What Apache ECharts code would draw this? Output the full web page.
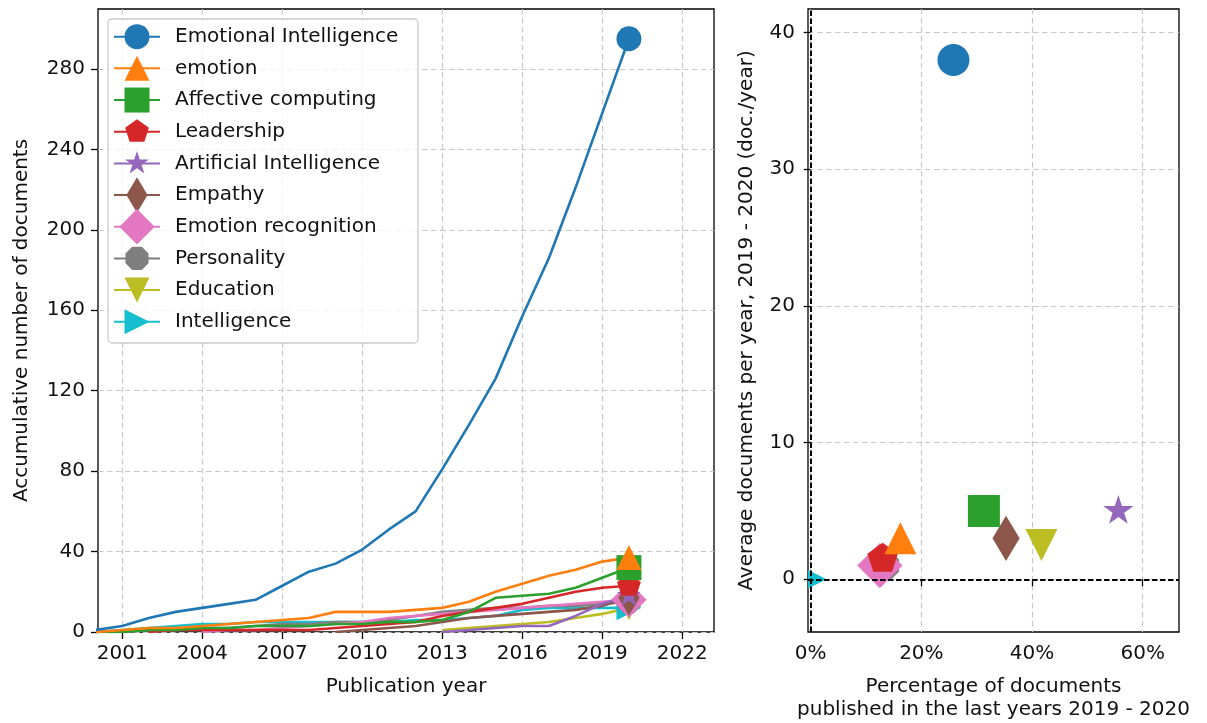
<!DOCTYPE html>
<html>
<head>
<meta charset="utf-8">
<script src="https://cdn.jsdelivr.net/npm/echarts@6/dist/echarts.min.js"></script>
<style>
  html, body { margin: 0; padding: 0; background: #ffffff; }
  #chart { width: 1207px; height: 723px; }
</style>
</head>
<body>
<div id="chart"></div>
<script>
// ---- data ----------------------------------------------------------------
const years = [2000, 2001, 2002, 2003, 2004, 2005, 2006, 2007, 2008, 2009, 2010,
               2011, 2012, 2013, 2014, 2015, 2016, 2017, 2018, 2019, 2020];

const keywords = ['Emotional Intelligence', 'emotion', 'Affective computing', 'Leadership',
                  'Artificial Intelligence', 'Empathy', 'Emotion recognition', 'Personality',
                  'Education', 'Intelligence'];

// cumulative number of documents per year (null = no documents yet)
const emotionalIntelligence = [1, 3, 7, 10, 12, 14, 16, 23, 30, 34, 41, 51, 60, 81, 103, 126, 157, 186, 221, 258, 295];
const emotion = [0, 1, 2, 2, 3, 4, 5, 6, 7, 10, 10, 10, 11, 12, 15, 20, 24, 28, 31, 35, 37];
const affectiveComputing = [0, 0, 1, 1, 2, 2, 3, 3, 3, 4, 4, 5, 5, 6, 10, 17, 18, 19, 22, 27, 32];
const leadership = [null, null, 0, 1, 1, 1, 1, 1, 1, 2, 3, 4, 5, 8, 10, 12, 14, 17, 20, 22, 23];
const artificialIntelligence = [null, null, null, null, null, null, null, null, null, null, null, null, null,
                                0, 1, 2, 3, 3, 8, 14, 18];
const empathy = [null, null, null, null, null, null, null, null, null,
                 0, 1, 2, 3, 5, 7, 8, 9, 10, 11, 13, 17];
const emotionRecognition = [null, null, null, null, 0, 1, 1, 2, 3, 4, 5, 7, 8, 9, 10, 11, 12, 13, 14, 15, 16];
const personality = [0, 0, 1, 1, 2, 2, 3, 4, 4, 5, 5, 6, 8, 10, 11, 12, 12, 13, 13, 14, 15];
const education = [null, null, null, null, null, null, null, null, null, null, null, null, null,
                   1, 2, 3, 4, 5, 7, 9, 12];
const intelligence = [0, 1, 2, 3, 4, 4, 5, 5, 5, 5, 5, 5, 6, 6, 7, 8, 11, 12, 12, 12, 12];

const cumulative = [emotionalIntelligence, emotion, affectiveComputing, leadership, artificialIntelligence,
                    empathy, emotionRecognition, personality, education, intelligence];

// share of documents published in 2019-2020 (%) and average documents per year in 2019-2020
const recentShare = [25.8, 16.2, 31.3, 13.0, 55.6, 35.3, 12.5, 13.3, 41.7, 0.0];
const recentAverage = [38, 3, 5, 1.5, 5, 3, 1, 1, 2.5, 0];

// tick labels
const yearTicks = [2001, 2004, 2007, 2010, 2013, 2016, 2019, 2022];
const countTicks = [0, 40, 80, 120, 160, 200, 240, 280];
const shareTicks = [0, 20, 40, 60];
const averageTicks = [0, 10, 20, 30, 40];

// ---- styling -------------------------------------------------------------
const colors = ['#1f77b4', '#ff7f0e', '#2ca02c', '#d62728', '#9467bd',
                '#8c564b', '#e377c2', '#7f7f7f', '#bcbd22', '#17becf'];
const markerKinds = ['o', '^', 's', 'p', '*', 'd', 'D', '8', 'v', '>'];
const FONT = 'DejaVu Sans';
const TEXT = '#111111';
const GRID_LINE = { show: true, lineStyle: { color: '#c8c8c8', width: 1.2, type: [5.5, 3.5] } };

// marker outlines in units of the marker radius (screen y pointing down)
function markerPoints(kind) {
  const poly = (n, start, radius) => Array.from({ length: n }, (_, k) => {
    const a = (start + 360 * k / n) * Math.PI / 180;
    return [radius * Math.cos(a), radius * Math.sin(a)];
  });
  const s2 = Math.SQRT2;
  switch (kind) {
    case '^': return [[0, -1], [-1, 1], [1, 1]];
    case 'v': return [[0, 1], [-1, -1], [1, -1]];
    case '>': return [[1, 0], [-1, -1], [-1, 1]];
    case 's': return [[-1, -1], [1, -1], [1, 1], [-1, 1]];
    case 'p': return poly(5, -90, 1);
    case '8': return poly(8, -112.5, 1);
    case 'D': return [[0, -s2], [s2, 0], [0, s2], [-s2, 0]];
    case 'd': return [[0, -s2], [0.6 * s2, 0], [0, s2], [-0.6 * s2, 0]];
    case '*': {
      const outer = poly(5, -90, 1), inner = poly(5, -54, 0.381966), pts = [];
      for (let k = 0; k < 5; k++) { pts.push(outer[k], inner[k]); }
      return pts;
    }
  }
  return null;
}

// symbol paths share one square frame so every marker keeps its proportions
const FRAME = 1.42;
function markerPath(kind) {
  const f = FRAME;
  let body;
  if (kind === 'o') {
    body = 'M-1 0A1 1 0 1 1 1 0A1 1 0 1 1 -1 0Z';
  } else {
    body = 'M' + markerPoints(kind).map(p => p[0].toFixed(4) + ' ' + p[1].toFixed(4)).join('L') + 'Z';
  }
  return 'path://M' + (-f) + ' ' + (-f) + 'M' + f + ' ' + f + body;
}

const LINE_MARKER = 25;    // marker diameter on the cumulative chart / legend
const SCATTER_MARKER = 32; // marker diameter on the recent-activity chart
const LEGEND_SYMBOL = LINE_MARKER * FRAME;  // legend icon box (80% of item height)
const LEGEND_ROW = 31.67;                   // distance between legend rows

// ---- series --------------------------------------------------------------
const series = [];
// drawn last-to-first so that the first keyword ends up on top
for (let i = keywords.length - 1; i >= 0; i--) {
  const pts = [];
  years.forEach((y, j) => { if (cumulative[i][j] != null) pts.push([y, cumulative[i][j]]); });
  const last = pts.length - 1;
  series.push({
    type: 'line',
    name: keywords[i],
    xAxisIndex: 0,
    yAxisIndex: 0,
    data: pts,
    color: colors[i],
    lineStyle: { width: 2.6, color: colors[i] },
    itemStyle: { color: colors[i], borderWidth: 0 },
    symbol: markerPath(markerKinds[i]),
    symbolSize: (v, p) => (p.dataIndex === last ? LINE_MARKER * FRAME : 0),
    showSymbol: true,
    showAllSymbol: true,
    smooth: false,
    silent: true,
    emphasis: { disabled: true }
  });
}

// zero reference lines on the right-hand panel
series.push({
  type: 'line',
  name: 'zero-lines',
  xAxisIndex: 1,
  yAxisIndex: 1,
  data: [],
  z: 1,
  silent: true,
  markLine: {
    silent: true,
    symbol: 'none',
    label: { show: false },
    lineStyle: { color: '#000000', width: 2, type: [5.5, 2.5] },
    emphasis: { disabled: true },
    data: [{ xAxis: 0 }, { yAxis: 0 }]
  }
});

// recent activity markers, clipped to the plotting area
const drawOrder = [9, 8, 7, 6, 5, 4, 3, 2, 1, 0];
series.push({
  type: 'custom',
  name: 'recent',
  xAxisIndex: 1,
  yAxisIndex: 1,
  clip: true,
  z: 3,
  silent: true,
  data: drawOrder.map(i => [recentShare[i], recentAverage[i], i]),
  renderItem(params, api) {
    const i = api.value(2);
    const c = api.coord([api.value(0), api.value(1)]);
    const r = SCATTER_MARKER / 2;
    const kind = markerKinds[i];
    if (kind === 'o') {
      return { type: 'circle', shape: { cx: c[0], cy: c[1], r: r }, style: { fill: colors[i] } };
    }
    return {
      type: 'polygon',
      shape: { points: markerPoints(kind).map(p => [c[0] + p[0] * r, c[1] + p[1] * r]) },
      style: { fill: colors[i] }
    };
  }
});

// ---- axes ----------------------------------------------------------------
const tickStyle = { show: true, inside: false, length: 7, lineStyle: { color: '#000', width: 1.3 } };
const labelStyle = { fontFamily: FONT, fontSize: 20, color: TEXT };
const nameStyle = { fontFamily: FONT, fontSize: 20, color: TEXT };

const option = {
  animation: false,
  backgroundColor: '#ffffff',
  textStyle: { fontFamily: FONT },
  grid: [
    { left: 98, top: 9, width: 616, height: 623, show: true, borderColor: '#000', borderWidth: 1.3,
      containLabel: false, outerBoundsMode: 'none' },
    { left: 808, top: 9, width: 371, height: 623, show: true, borderColor: '#000', borderWidth: 1.3,
      containLabel: false, outerBoundsMode: 'none' }
  ],
  xAxis: [
    {
      type: 'value', gridIndex: 0, min: 2000.09, max: 2023.19,
      axisLine: { show: false },
      axisTick: Object.assign({ customValues: yearTicks }, tickStyle),
      axisLabel: Object.assign({ customValues: yearTicks, margin: 12, formatter: v => String(v) }, labelStyle),
      splitLine: GRID_LINE,
      name: 'Publication year', nameLocation: 'middle', nameGap: 45, nameTextStyle: nameStyle
    },
    {
      type: 'value', gridIndex: 1, min: -0.49, max: 66.56,
      axisLine: { show: false },
      axisTick: Object.assign({ customValues: shareTicks }, tickStyle),
      axisLabel: Object.assign({ customValues: shareTicks, margin: 12, formatter: v => v + '%' }, labelStyle),
      splitLine: GRID_LINE,
      name: 'Percentage of documents\npublished in the last years 2019 - 2020',
      nameLocation: 'middle', nameGap: 43,
      nameTextStyle: Object.assign({ lineHeight: 23 }, nameStyle)
    }
  ],
  yAxis: [
    {
      type: 'value', gridIndex: 0, min: 0, max: 309.8,
      axisLine: { show: false },
      axisTick: Object.assign({ customValues: countTicks }, tickStyle),
      axisLabel: Object.assign({ customValues: countTicks, margin: 13 }, labelStyle),
      splitLine: GRID_LINE,
      name: 'Accumulative number of documents', nameLocation: 'middle', nameGap: 66, nameTextStyle: nameStyle
    },
    {
      type: 'value', gridIndex: 1, min: -3.86, max: 41.73,
      axisLine: { show: false },
      axisTick: Object.assign({ customValues: averageTicks }, tickStyle),
      axisLabel: Object.assign({ customValues: averageTicks, margin: 13 }, labelStyle),
      splitLine: GRID_LINE,
      name: 'Average documents per year, 2019 - 2020 (doc./year)', nameLocation: 'middle', nameGap: 51,
      nameTextStyle: nameStyle
    }
  ],
  legend: {
    data: keywords,
    orient: 'vertical',
    left: 113,
    top: 36.7 - LEGEND_SYMBOL / 2,
    padding: 0,
    itemWidth: 46,
    itemHeight: LEGEND_SYMBOL / 0.8,
    itemGap: LEGEND_ROW - LEGEND_SYMBOL,
    selectedMode: false,
    z: 5,
    textStyle: { fontFamily: FONT, fontSize: 20, color: TEXT, padding: [0, 0, 0, 10] }
  },
  graphic: [
    {
      type: 'rect', z: 3, silent: true,
      shape: { x: 108, y: 19, width: 310, height: 324, r: 4 },
      style: { fill: 'rgba(255,255,255,0.8)', stroke: '#cccccc', lineWidth: 1.3 }
    }
  ],
  series: series
};

const chart = echarts.init(document.getElementById('chart'), null, { renderer: 'canvas' });
chart.setOption(option);
</script>
</body>
</html>
